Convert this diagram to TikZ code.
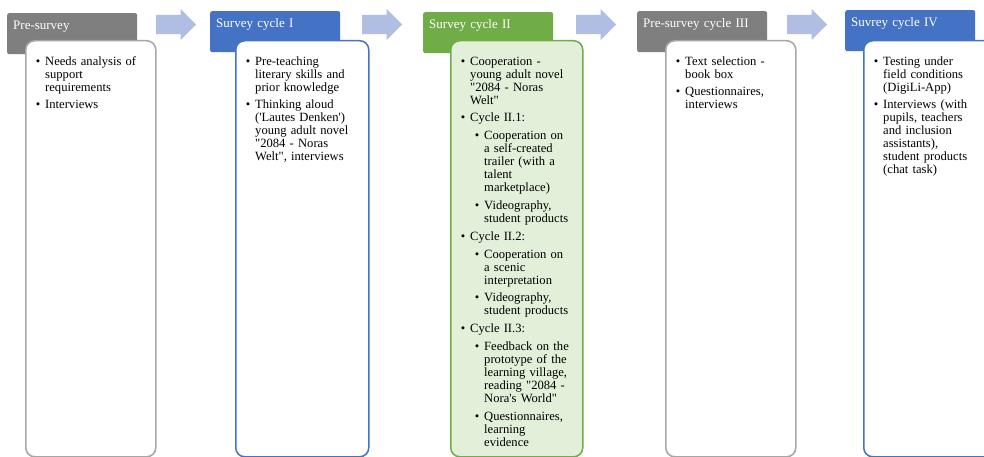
\documentclass[tikz,border=0pt]{standalone}
\usepackage{fontspec}
\setmainfont{Liberation Serif}[Ligatures=TeXOff]
\usepackage{enumitem}
\usetikzlibrary{positioning, shapes.arrows}

\definecolor{headGray}{HTML}{7F7F7F}
\definecolor{boxGray}{HTML}{A6A6A6}
\definecolor{officeBlue}{HTML}{4472C4}
\definecolor{officeGreen}{HTML}{70AD47}
\definecolor{paleGreen}{HTML}{E2EFD9}
\definecolor{arrowBlue}{HTML}{B0BEE3}

\setlist[itemize,1]{label={\textbullet}, leftmargin=20pt, labelsep=5pt, topsep=0pt, partopsep=0pt, parsep=0pt, itemsep=4.8pt}
\setlist[itemize,2]{label={\textbullet}, leftmargin=14pt, labelsep=5pt, topsep=4.8pt, partopsep=0pt, parsep=0pt, itemsep=4.8pt}

\begin{document}
\begin{tikzpicture}[x=1pt, y=-1pt,
    head/.style={rectangle, rounded corners=2pt, minimum width=130pt, minimum height=41pt, inner xsep=6pt, inner ysep=0pt, text width=118pt, text height=16pt, text depth=25pt, align=left, anchor=north west, text=white, font=\fontsize{13}{15}\selectfont},
    box/.style={rectangle, rounded corners=9pt, line width=1.5pt, minimum width=130pt, minimum height=416pt, anchor=north west, fill=white},
    list/.style={inner sep=0pt, text width=124pt, align=left, font=\fontsize{12.6}{13}\selectfont},
    flow/.style={single arrow, fill=arrowBlue, draw=none, inner sep=0pt, inner ysep=9.5pt, minimum height=40pt, single arrow head extend=6pt, single arrow head indent=0pt, anchor=west}
]
\useasboundingbox (0,0) rectangle (984,457);
\clip (0,0) rectangle (984,457);
\fill[white] (0,0) rectangle (984,457);

% Headers and boxes
\node[head, fill=headGray] (preHead) at (7,13) {Pre-survey};
\node[box, draw=boxGray] (preBox) at (25,40) {};
\node[head, fill=officeBlue] (oneHead) at (210,11) {Survey cycle I};
\node[box, draw=officeBlue, minimum width=133pt] (oneBox) at (235,40) {};
\node[head, fill=officeGreen] (twoHead) at (423,12) {Survey cycle II};
\node[box, draw=officeGreen, fill=paleGreen, minimum width=132pt] (twoBox) at (450,40) {};
\node[head, fill=headGray] (threeHead) at (637,11) {Pre-survey cycle III};
\node[box, draw=boxGray] (threeBox) at (665,40) {};
\node[head, fill=officeBlue] (fourHead) at (845,10) {Suvrey cycle IV};
\node[box, draw=officeBlue] (fourBox) at (863,40) {};

% Box texts
\node[list, below right=12pt and 0pt of preBox.north west] (preText) {\begin{itemize}
  \item Needs analysis of\\ support\\ requirements
  \item Interviews
\end{itemize}};
\node[list, below right=12pt and 0pt of oneBox.north west] (oneText) {\begin{itemize}
  \item Pre-teaching\\ literary skills and\\ prior knowledge
  \item Thinking aloud\\ ('Lautes Denken')\\ young adult novel\\ "2084 - Noras\\ Welt", interviews
\end{itemize}};
\node[list, below right=12pt and 0pt of twoBox.north west] (twoText) {\begin{itemize}
  \item Cooperation -\\ young adult novel\\ "2084 - Noras\\ Welt"
  \item Cycle II.1:
  \begin{itemize}
    \item Cooperation on\\ a self-created\\ trailer (with a\\ talent\\ marketplace)
    \item Videography,\\ student products
  \end{itemize}
  \item Cycle II.2:
  \begin{itemize}
    \item Cooperation on\\ a scenic\\ interpretation
    \item Videography,\\ student products
  \end{itemize}
  \item Cycle II.3:
  \begin{itemize}
    \item Feedback on the\\ prototype of the\\ learning village,\\ reading "2084 -\\ Nora's World"
    \item Questionnaires,\\ learning\\ evidence
  \end{itemize}
\end{itemize}};
\node[list, below right=12pt and 0pt of threeBox.north west] (threeText) {\begin{itemize}
  \item Text selection -\\ book box
  \item Questionnaires,\\ interviews
\end{itemize}};
\node[list, below right=12pt and 0pt of fourBox.north west] (fourText) {\begin{itemize}
  \item Testing under\\ field conditions\\ (DigiLi-App)
  \item Interviews (with\\ pupils, teachers\\ and inclusion\\ assistants),\\ student products\\ (chat task)
\end{itemize}};

% Arrows
\node[flow] (stepOne) at (156,24.5) {};
\node[flow] (stepTwo) at (362,24.5) {};
\node[flow] (stepThree) at (576,24.5) {};
\node[flow] (stepFour) at (787,24.5) {};

\end{tikzpicture}
\end{document}
